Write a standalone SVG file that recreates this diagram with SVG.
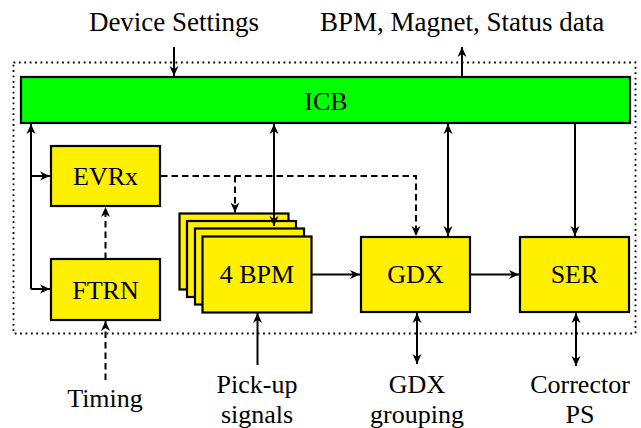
<svg xmlns="http://www.w3.org/2000/svg" width="641" height="428" viewBox="0 0 641 428">
<style>
text{font-family:"Liberation Serif","Times New Roman",serif;font-size:26px;fill:#000;text-anchor:middle}
.top{font-size:27px}
.box{fill:#fff000;stroke:#000;stroke-width:2.2}
.c{fill:none;stroke:#000;stroke-width:2}
.d{stroke-dasharray:6.5 4}
.a{marker-end:url(#ah)}
.b{marker-start:url(#ah);marker-end:url(#ah)}
</style>
<defs>
<marker id="ah" viewBox="-11 -6 12 12" refX="0" refY="0" markerWidth="12" markerHeight="12" markerUnits="userSpaceOnUse" orient="auto-start-reverse">
<path d="M0,0 L-10,-4.5 L-7,0 L-10,4.5 Z" fill="#000"/>
</marker>
</defs>
<rect x="0" y="0" width="641" height="428" fill="#fff"/>
<g id="boundary">
<rect x="13.5" y="62.5" width="622" height="271" fill="none" stroke="#000" stroke-width="1.8" stroke-dasharray="1.8 3.6"/>
</g>
<g id="ICB">
<rect x="21" y="77" width="609" height="46" fill="#00ff00" stroke="#000" stroke-width="2.2"/>
<text x="326" y="109.5">ICB</text>
</g>
<g id="EVRx">
<rect class="box" x="51" y="146" width="109" height="60"/>
<text x="105.5" y="184.5">EVRx</text>
</g>
<g id="FTRN">
<rect class="box" x="51" y="259" width="109" height="61"/>
<text x="105.5" y="298.5">FTRN</text>
</g>
<g id="BPM">
<rect class="box" x="179.5" y="213.5" width="109" height="76"/>
<rect class="box" x="187" y="221" width="109" height="76"/>
<rect class="box" x="195" y="228.5" width="109" height="76"/>
<rect class="box" x="202.5" y="236.5" width="109" height="76"/>
<text x="257" y="283">4 BPM</text>
</g>
<g id="GDX">
<rect class="box" x="361" y="237" width="109" height="75"/>
<text x="415.5" y="283">GDX</text>
</g>
<g id="SER">
<rect class="box" x="520" y="237" width="109" height="75"/>
<text x="574.5" y="283">SER</text>
</g>
<g id="labels">
<text class="top" x="174" y="31">Device Settings</text>
<text class="top" x="462" y="31">BPM, Magnet, Status data</text>
<text x="105" y="407">Timing</text>
<text x="257" y="393">Pick-up</text>
<text x="257" y="423">signals</text>
<text x="417" y="393">GDX</text>
<text x="417" y="423">grouping</text>
<text x="580" y="393">Corrector</text>
<text x="580" y="423">PS</text>
</g>
<g id="connectors">
<line class="c a" x1="174" y1="47" x2="174" y2="76"/>
<line class="c a" x1="462" y1="77" x2="462" y2="47"/>
<polyline class="c a" points="31,289 31,124"/>
<line class="c a" x1="31" y1="176" x2="50" y2="176"/>
<line class="c a" x1="31" y1="289" x2="50" y2="289"/>
<line class="c d a" x1="105.5" y1="259" x2="105.5" y2="207"/>
<polyline class="c d a" points="161,176 416,176 416,236"/>
<line class="c d a" x1="235" y1="176" x2="235" y2="212.5"/>
<line class="c b" x1="274" y1="124" x2="274" y2="226"/>
<line class="c b" x1="448" y1="124" x2="448" y2="236"/>
<line class="c a" x1="575" y1="123" x2="575" y2="236"/>
<line class="c a" x1="312" y1="274.5" x2="360" y2="274.5"/>
<line class="c a" x1="471" y1="274.5" x2="519" y2="274.5"/>
<line class="c d a" x1="105.5" y1="380" x2="105.5" y2="321"/>
<line class="c a" x1="257.5" y1="365" x2="257.5" y2="313"/>
<line class="c b" x1="417" y1="313" x2="417" y2="364"/>
<line class="c b" x1="576" y1="313" x2="576" y2="366"/>
</g>
</svg>
